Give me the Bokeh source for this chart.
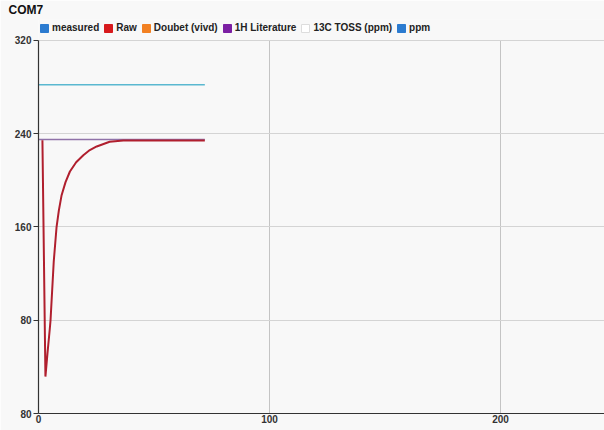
from bokeh.plotting import figure
from bokeh.models import Range1d, FixedTicker, Legend, LegendItem
from bokeh.embed import file_html
from bokeh.resources import INLINE

chart_title = "COM7"
legend_labels = ["measured", "Raw", "Doubet (vivd)", "1H Literature", "13C TOSS (ppm)", "ppm"]
legend_colors = ["#2b7bd0", "#d7191c", "#f28022", "#7b1fa3", "#ffffff", "#2b7bd0"]

x_ticks = [0, 100, 200]
y_ticks = [0, 80, 160, 240, 320]
y_tick_labels = ["80", "80", "160", "240", "320"]

raw_x = [1.7, 3.0, 3.9, 4.9, 5.2, 6.6, 7.8, 8.8, 10.0, 11.7, 13.6, 16.3, 19.4, 22.2, 25.2, 30.8, 36.7, 72.0]
raw_y = [234.5, 31.7, 52.0, 72.9, 79.8, 130.4, 159.6, 174.0, 187.3, 198.5, 207.6, 215.5, 221.6, 226.0, 229.1, 233.1, 234.2, 234.2]

lit_x = [0, 72]
lit_y = [235, 235]

ppm_x = [0, 72]
ppm_y = [282, 282]

NAN = float("nan")
FONT = "Liberation Sans"
BG = "#f8f8f8"
Y_TOP = 320

# frame extends a little above 320 so that the legend row fits inside it
p = figure(width=604, height=430, x_range=Range1d(0, 245), y_range=Range1d(0, 338),
           output_backend="svg", toolbar_location=None, title=chart_title,
           min_border_left=38, min_border_right=0, min_border_top=19, min_border_bottom=17)
p.background_fill_color = BG
p.border_fill_color = BG
p.outline_line_color = None

p.title.text_font = FONT
p.title.text_font_size = "12px"
p.title.text_font_style = "bold"
p.title.text_color = "#111111"
p.title.align = "left"
p.title.vertical_align = "top"
p.title.offset = -30
p.title.standoff = 2

# axes
p.xaxis.ticker = FixedTicker(ticks=x_ticks)
p.yaxis.ticker = FixedTicker(ticks=y_ticks)
p.yaxis.bounds = (0, Y_TOP)
p.yaxis.major_label_overrides = {t: l for t, l in zip(y_ticks, y_tick_labels)}
for ax in (p.xaxis[0], p.yaxis[0]):
    ax.axis_line_color = "#333333"
    ax.axis_line_width = 1.2
    ax.major_tick_line_color = "#333333"
    ax.minor_tick_line_color = None
    ax.minor_tick_out = 0
    ax.minor_tick_in = 0
    ax.major_label_text_font = FONT
    ax.major_label_text_font_size = "10px"
    ax.major_label_text_font_style = "bold"
    ax.major_label_text_color = "#333333"
p.xaxis.major_tick_out = 0
p.xaxis.major_tick_in = 0
p.xaxis.major_label_standoff = 1
p.yaxis.major_tick_out = 5
p.yaxis.major_tick_in = 0
p.yaxis.major_label_standoff = 2

p.xgrid.ticker = FixedTicker(ticks=[100, 200])
p.xgrid.grid_line_color = "#c4c4c4"
try:
    p.xgrid[0].cross_bounds = (0, Y_TOP)
except Exception:
    pass
p.ygrid.ticker = FixedTicker(ticks=[80, 160, 240, 320])
p.ygrid.grid_line_color = "#d4d4d4"

# data lines
p.line(ppm_x, ppm_y, line_color="#5ab8d0", line_width=1.6)
p.line(lit_x, lit_y, line_color="#8f72a8", line_width=1.6)
p.line(raw_x, raw_y, line_color="#b01f2e", line_width=2)

# legend swatches (series without drawn data: a single NaN row)
items = []
for lab, col in zip(legend_labels, legend_colors):
    r = p.quad(left=[NAN], right=[NAN], top=[NAN], bottom=[NAN], fill_color=col,
               line_color="#dddddd" if col == "#ffffff" else col, line_width=1)
    items.append(LegendItem(label=lab, renderers=[r]))

legend = Legend(items=items, orientation="horizontal", location=(1, 380),
                glyph_width=10, glyph_height=10, label_standoff=3, spacing=4,
                padding=0, margin=0, label_height=10,
                label_text_font=FONT, label_text_font_size="10px",
                label_text_font_style="bold", label_text_color="#222222",
                background_fill_alpha=0, border_line_alpha=0)
p.add_layout(legend, "center")

open("out.html", "w").write(file_html(p, INLINE))
